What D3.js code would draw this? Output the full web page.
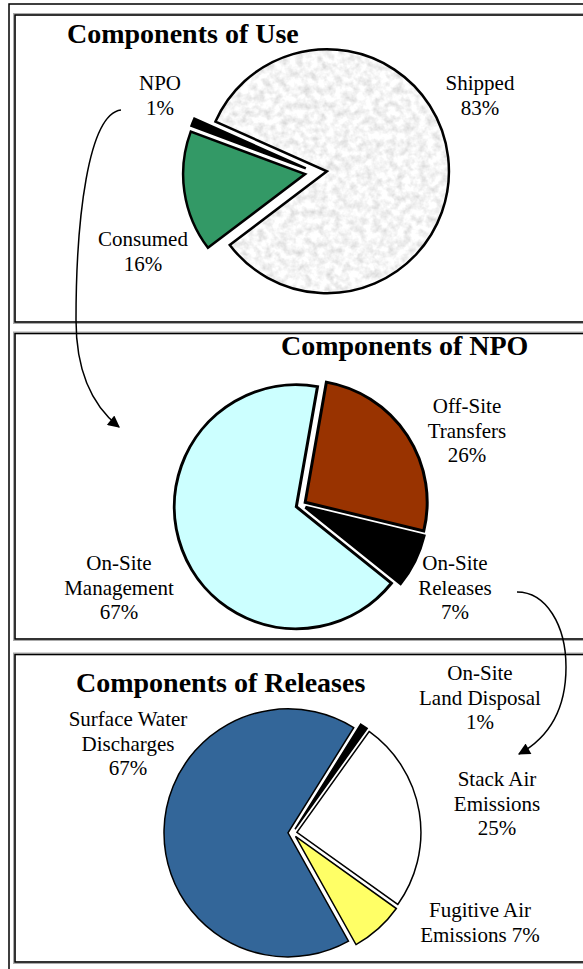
<!DOCTYPE html>
<html lang="en">
<head>
<meta charset="utf-8">
<title>Components of Use, NPO and Releases</title>
<script src="https://d3js.org/d3.v7.min.js"></script>
<style>
  body { margin: 0; background: #fff; }
  svg { display: block; }
  text { font-family: "Liberation Serif", "Times New Roman", serif; fill: #000; }
  .title { font-weight: bold; font-size: 28px; }
  .lbl { font-size: 21px; text-anchor: middle; }
</style>
</head>
<body>
<script>
// ---- data ----
var useCats = ["Shipped", "Consumed", "NPO"];
var useVals = [83, 16, 1];

var npoCats = ["Off-Site|Transfers", "On-Site|Releases", "On-Site|Management"];
var npoVals = [26, 7, 67];

var relCats = ["On-Site|Land Disposal", "Stack Air|Emissions", "Fugitive Air|Emissions", "Surface Water|Discharges"];
var relVals = [1, 25, 7, 67];

var W = 583, H = 969;
var deg = Math.PI / 180;

var svg = d3.select("body").append("svg")
    .attr("width", W)
    .attr("height", H);

var defs = svg.append("defs");

// mottled grey texture for the "Shipped" slice
var f = defs.append("filter").attr("id", "granite")
    .attr("x", "-5%").attr("y", "-5%").attr("width", "110%").attr("height", "110%");
f.append("feTurbulence").attr("type", "fractalNoise").attr("baseFrequency", 0.13)
    .attr("numOctaves", 3).attr("seed", 7).attr("result", "noise");
f.append("feColorMatrix").attr("in", "noise").attr("type", "matrix")
    .attr("values", "0.6 0 0 0 0.61  0.6 0 0 0 0.61  0.6 0 0 0 0.61  0 0 0 0 1")
    .attr("result", "grey");
f.append("feComposite").attr("in", "grey").attr("in2", "SourceAlpha")
    .attr("operator", "in");

defs.append("marker")
    .attr("id", "arrow")
    .attr("viewBox", "0 0 10 10")
    .attr("refX", 9).attr("refY", 5)
    .attr("markerWidth", 17).attr("markerHeight", 12)
    .attr("markerUnits", "userSpaceOnUse")
    .attr("orient", "auto")
  .append("path")
    .attr("d", "M0,0L10,5L0,10z")
    .attr("fill", "#000");

// outer frame
svg.append("rect")
    .attr("x", 9).attr("y", 4)
    .attr("width", 700).attr("height", 1100)
    .attr("fill", "none").attr("stroke", "#000").attr("stroke-width", 1.5);

var panels = [
  {
    title: "Components of Use", cats: useCats, vals: useVals,
    colors: ["textured", "#339966", "#000000"],
    top: 15, bottom: 322, titleX: 67, titleY: 43,
    cx: 316, cy: 172.5, r: 122, start: -66, explode: 11, sw: 2.5,
    labelPos: [[480, 90], [143, 246], [160, 90]]
  },
  {
    title: "Components of NPO", cats: npoCats, vals: npoVals,
    colors: ["#993300", "#000000", "#ccffff"],
    top: 333.5, bottom: 639, titleX: 281, titleY: 355,
    cx: 301, cy: 505, r: 122, start: 10, explode: 5, sw: 3,
    labelPos: [[467, 413], [455, 570], [119, 570]]
  },
  {
    title: "Components of Releases", cats: relCats, vals: relVals,
    colors: ["#000000", "#ffffff", "#ffff66", "#336699"],
    top: 654.5, bottom: 962, titleX: 76, titleY: 692,
    cx: 292.5, cy: 833, r: 124, start: 32, explode: 4.5, sw: 1.5,
    labelPos: [[480, 680], [497, 786], [480, 917], [128, 726]],
    inlinePct: [false, false, true, false]
  }
];

panels.forEach(function (p) {
  // panel box: light grey hairline outside a black line
  svg.append("rect")
      .attr("x", 13.5).attr("y", p.top - 1.5)
      .attr("width", 700).attr("height", p.bottom - p.top + 3)
      .attr("fill", "none").attr("stroke", "#aaa").attr("stroke-width", 1);
  svg.append("rect")
      .attr("x", 15).attr("y", p.top)
      .attr("width", 700).attr("height", p.bottom - p.top)
      .attr("fill", "#fff").attr("stroke", "#000").attr("stroke-width", 1.6);

  var g = svg.append("g");

  var pie = d3.pie().sort(null).value(function (d) { return d; })
      .startAngle(p.start * deg).endAngle(p.start * deg + 2 * Math.PI);
  var arc = d3.arc().innerRadius(0).outerRadius(p.r);
  var arcs = pie(p.vals);

  function shift(d) {
    var a = (d.startAngle + d.endAngle) / 2;
    var x = p.cx + p.explode * Math.sin(a);
    var y = p.cy - p.explode * Math.cos(a);
    return "translate(" + x + "," + y + ")";
  }

  // fills
  g.selectAll("path.fill")
      .data(arcs)
    .enter().append("path")
      .attr("class", "fill")
      .attr("d", arc)
      .attr("transform", shift)
      .attr("fill", function (d, i) { return p.colors[i] === "textured" ? "#e9e9e9" : p.colors[i]; })
      .attr("filter", function (d, i) { return p.colors[i] === "textured" ? "url(#granite)" : null; });

  // outlines
  g.selectAll("path.edge")
      .data(arcs)
    .enter().append("path")
      .attr("class", "edge")
      .attr("d", arc)
      .attr("transform", shift)
      .attr("fill", "none")
      .attr("stroke", "#000")
      .attr("stroke-width", p.sw);

  g.append("text")
      .attr("class", "title")
      .attr("x", p.titleX).attr("y", p.titleY)
      .text(p.title);

  p.cats.forEach(function (c, i) {
    var lines = c.split("|");
    var pct = p.vals[i] + "%";
    if (p.inlinePct && p.inlinePct[i]) lines[lines.length - 1] += " " + pct;
    else lines.push(pct);
    var t = g.append("text").attr("class", "lbl")
        .attr("x", p.labelPos[i][0]).attr("y", p.labelPos[i][1]);
    lines.forEach(function (s, k) {
      t.append("tspan")
          .attr("x", p.labelPos[i][0])
          .attr("dy", k === 0 ? 0 : 24.5)
          .text(s);
    });
  });
});

// connector arrows
svg.append("path")
    .attr("d", "M121,110 C88,114 76,220 76,320 C76,375 94,407 119,427")
    .attr("fill", "none").attr("stroke", "#000").attr("stroke-width", 1.5)
    .attr("marker-end", "url(#arrow)");

svg.append("path")
    .attr("d", "M517,592 C546,592 566,625 566,667 C566,707 550,737 519,754")
    .attr("fill", "none").attr("stroke", "#000").attr("stroke-width", 1.5)
    .attr("marker-end", "url(#arrow)");
</script>
</body>
</html>
